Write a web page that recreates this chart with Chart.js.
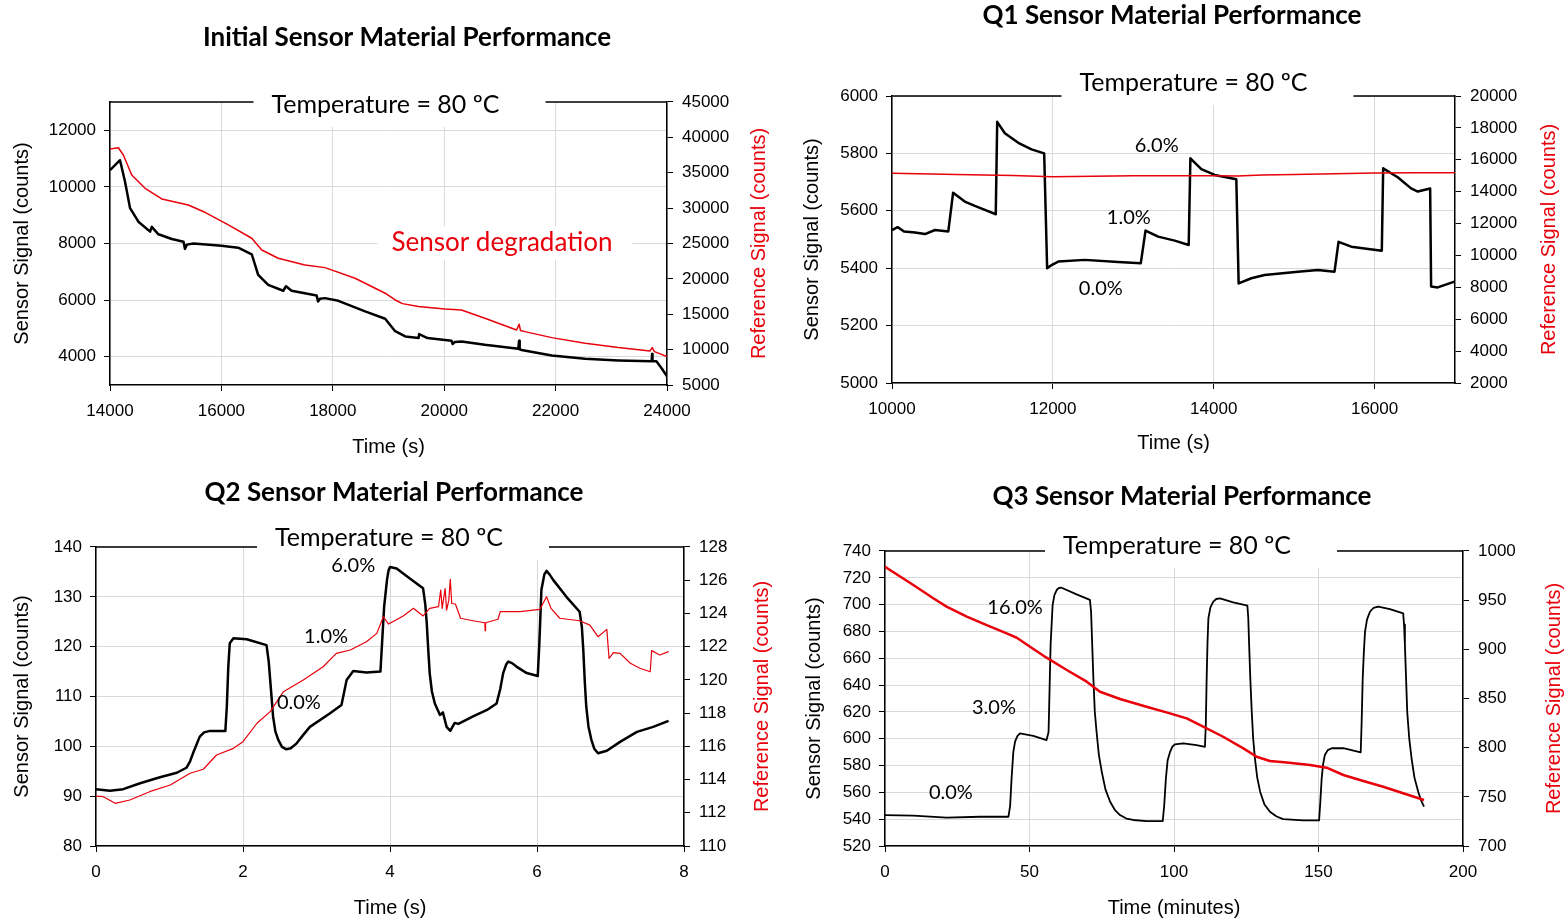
<!DOCTYPE html>
<html lang="en">
<head>
    <meta charset="UTF-8">
    <title>Sensor Material Performance</title>
    <script src="https://cdn.jsdelivr.net/npm/chart.js"></script>
    <style>
        body {
            margin: 0;
            background-color: white;
        }

        #page {
            position: relative;
            width: 1564px;
            height: 922px;
            overflow: hidden;
        }

        canvas {
            position: absolute;
        }
    </style>
</head>
<body>

    <div id="page">
        <canvas id="chartInitial" width="814" height="462" style="left:0px; top:0px;"></canvas>
        <canvas id="chartQ1" width="780" height="462" style="left:782px; top:0px;"></canvas>
        <canvas id="chartQ2" width="788" height="460" style="left:0px; top:462px;"></canvas>
        <canvas id="chartQ3" width="764" height="460" style="left:800px; top:462px;"></canvas>
    </div>

    <script>
        const tempLabel = 'Temperature = 80 ºC';

        // Initial sensor material (time in s)
        const initSensorTime = [14000, 14180, 14270, 14360, 14510, 14720, 14750, 14870, 15110, 15320, 15345, 15380, 15500, 16000, 16300, 16545, 16660, 16840, 17110, 17160, 17260, 17710, 17735, 17770, 17860, 18100, 18580, 18940, 19120, 19300, 19540, 19550, 19700, 20130, 20150, 20190, 20310, 20730, 21330, 21345, 21355, 21390, 21930, 22530, 23125, 23725, 23732, 23740, 23810, 23900, 24000];
        const initSensor = [10590, 10943, 10180, 9250, 8770, 8420, 8590, 8325, 8160, 8065, 7810, 7960, 8000, 7920, 7850, 7620, 6890, 6540, 6330, 6490, 6330, 6160, 5950, 6050, 6070, 5975, 5600, 5340, 4900, 4715, 4660, 4800, 4660, 4565, 4450, 4520, 4540, 4420, 4280, 4565, 4260, 4235, 4045, 3930, 3870, 3835, 4095, 3835, 3835, 3600, 3305];
        const initRefTime = [14000, 14150, 14240, 14390, 14630, 14930, 15405, 15705, 16125, 16545, 16725, 17020, 17500, 17860, 18400, 18940, 19120, 19250, 19535, 20015, 20310, 20730, 21300, 21345, 21370, 21450, 21930, 22530, 23125, 23695, 23735, 23775, 24000];
        const initRef = [38360, 38540, 37510, 34685, 32800, 31295, 30445, 29410, 27620, 25740, 24085, 22910, 21970, 21590, 20085, 17970, 17020, 16500, 16080, 15750, 15610, 14435, 12785, 13590, 12700, 12545, 11695, 10905, 10285, 9815, 10285, 9720, 9010];

        // Q1 sensor (time in s)
        const q1SensorTime = [10000, 10070, 10150, 10285, 10410, 10535, 10700, 10760, 10905, 11030, 11155, 11290, 11308, 11403, 11570, 11735, 11892, 11929, 11984, 12067, 12398, 12812, 13093, 13152, 13309, 13515, 13689, 13710, 13846, 14012, 14281, 14310, 14468, 14633, 15047, 15295, 15502, 15552, 15710, 15875, 16090, 16107, 16288, 16454, 16537, 16691, 16703, 16786, 16993];
        const q1Sensor = [5533, 5543, 5528, 5524, 5519, 5533, 5528, 5663, 5632, 5617, 5603, 5588, 5910, 5870, 5837, 5814, 5800, 5400, 5411, 5423, 5429, 5422, 5417, 5531, 5510, 5496, 5481, 5783, 5745, 5725, 5710, 5347, 5365, 5376, 5388, 5394, 5388, 5492, 5475, 5469, 5461, 5748, 5717, 5678, 5667, 5678, 5336, 5333, 5353];
        const q1RefTime = [10000, 10800, 11500, 12000, 12500, 13000, 13500, 14000, 14300, 14600, 15000, 15500, 16000, 16500, 17000];
        const q1Ref = [15150, 15080, 15020, 14940, 14970, 15000, 15000, 15000, 14980, 15050, 15080, 15120, 15170, 15180, 15180];

        // Q2 sensor (time in s)
        const q2SensorTime = [0, 0.19, 0.37, 0.60, 0.87, 1.10, 1.23, 1.28, 1.32, 1.41, 1.47, 1.55, 1.76, 1.78, 1.80, 1.82, 1.87, 2.05, 2.32, 2.35, 2.37, 2.41, 2.44, 2.48, 2.53, 2.59, 2.65, 2.73, 2.82, 2.91, 3.18, 3.34, 3.41, 3.50, 3.68, 3.87, 3.92, 3.96, 3.98, 4.00, 4.09, 4.27, 4.45, 4.48, 4.50, 4.52, 4.54, 4.57, 4.61, 4.68, 4.72, 4.77, 4.82, 4.88, 4.93, 5.13, 5.32, 5.45, 5.50, 5.54, 5.58, 5.61, 5.66, 5.72, 5.86, 6.01, 6.03, 6.06, 6.10, 6.13, 6.17, 6.22, 6.40, 6.58, 6.61, 6.63, 6.65, 6.67, 6.70, 6.74, 6.78, 6.83, 6.95, 7.13, 7.36, 7.58, 7.79];
        const q2Sensor = [91.4, 91.1, 91.4, 92.6, 93.8, 94.7, 95.7, 97.0, 98.6, 101.9, 102.8, 103.1, 103.1, 108.0, 116.0, 120.7, 121.7, 121.5, 120.3, 117.0, 113.3, 105.9, 103.0, 101.3, 99.9, 99.4, 99.6, 100.6, 102.3, 103.9, 106.6, 108.3, 113.3, 115.1, 114.8, 115.0, 128.0, 133.5, 135.3, 136.0, 135.7, 133.7, 131.7, 128.5, 124.7, 119.5, 114.7, 111.0, 108.6, 106.3, 106.8, 103.9, 103.1, 104.7, 104.5, 106.0, 107.3, 108.6, 111.5, 114.7, 116.4, 117.0, 116.7, 116.0, 114.7, 114.1, 120.0, 131.4, 134.5, 135.2, 134.5, 133.4, 130.0, 127.0, 124.0, 119.3, 113.0, 108.0, 104.0, 101.3, 99.5, 98.6, 99.1, 100.9, 102.9, 103.9, 105.1];
        const q2RefTime = [0, 0.10, 0.26, 0.46, 0.73, 1.01, 1.28, 1.46, 1.64, 1.87, 2.00, 2.19, 2.37, 2.55, 2.82, 3.09, 3.27, 3.46, 3.68, 3.82, 3.91, 3.98, 4.18, 4.32, 4.45, 4.54, 4.66, 4.69, 4.71, 4.75, 4.77, 4.80, 4.82, 4.84, 4.89, 4.96, 5.13, 5.29, 5.295, 5.30, 5.47, 5.50, 5.77, 6.04, 6.13, 6.19, 6.31, 6.58, 6.72, 6.83, 6.95, 6.98, 7.04, 7.13, 7.27, 7.40, 7.54, 7.56, 7.67, 7.79];
        const q2Ref = [113.0, 112.97, 112.57, 112.77, 113.27, 113.67, 114.38, 114.62, 115.48, 115.88, 116.28, 117.39, 118.09, 119.29, 119.99, 120.79, 121.60, 121.80, 122.30, 122.80, 123.80, 123.36, 123.85, 124.31, 123.85, 124.31, 124.41, 125.41, 124.3, 125.5, 124.2, 124.8, 126.06, 124.6, 124.57, 123.71, 123.56, 123.44, 122.96, 123.44, 123.65, 124.11, 124.11, 124.25, 125.01, 124.31, 123.71, 123.56, 123.30, 122.60, 123.04, 121.30, 121.64, 121.60, 121.00, 120.70, 120.49, 121.76, 121.50, 121.70];

        // Q3 sensor (time in minutes)
        const q3SensorTime = [0, 9.8, 21.3, 32.9, 42.7, 43.3, 43.8, 44.4, 45.0, 45.8, 46.7, 51.3, 55.9, 56.6, 57.3, 58.0, 58.6, 59.4, 60.2, 61.1, 66.3, 70.9, 71.3, 71.7, 72.1, 72.6, 73.2, 74.0, 75.0, 76.3, 77.9, 79.5, 81.3, 83.5, 85.9, 90.5, 96.1, 96.6, 97.2, 97.8, 98.6, 99.4, 100.3, 103.2, 107.8, 110.7, 111.0, 111.3, 111.6, 111.9, 112.6, 113.6, 114.6, 115.9, 120.5, 125.4, 125.7, 126.0, 126.4, 126.9, 127.4, 128.0, 128.8, 129.8, 131.3, 133.2, 135.5, 137.8, 144.7, 150.2, 150.6, 151.1, 151.6, 152.2, 153.2, 154.6, 158.6, 164.6, 164.9, 165.3, 165.7, 166.1, 166.8, 167.8, 169.0, 170.7, 174.7, 179.3, 179.6, 179.9, 180.3, 180.7, 181.4, 182.2, 183.2, 184.5, 185.5, 186.5];
        const q3Sensor = [543.1, 542.6, 541.1, 541.8, 541.8, 550.0, 570.5, 590.0, 597.8, 602.0, 604.0, 602.2, 599.0, 605.0, 669.9, 699.7, 707.0, 710.9, 712.5, 712.6, 707.7, 703.5, 695.0, 670.0, 645.1, 620.0, 605.2, 588.0, 575.4, 562.0, 553.0, 547.0, 543.1, 540.5, 539.4, 538.6, 538.6, 550.0, 570.5, 584.0, 590.0, 594.0, 595.8, 596.6, 595.3, 594.0, 610.0, 645.1, 672.0, 689.8, 698.0, 702.2, 704.2, 704.7, 701.7, 699.2, 690.0, 669.9, 645.0, 620.1, 600.0, 585.4, 571.0, 560.5, 551.0, 545.6, 542.0, 540.1, 539.1, 539.1, 552.0, 570.5, 581.0, 587.9, 591.5, 592.9, 592.9, 589.9, 610.0, 645.1, 665.0, 679.8, 689.0, 694.7, 697.5, 698.5, 696.7, 693.5, 685.0, 669.9, 645.0, 620.1, 600.0, 585.4, 571.0, 560.5, 554.0, 549.3];
        const q3RefTime = [0, 9.8, 16.7, 21.3, 28.3, 35.2, 42.1, 45.6, 50.2, 55.9, 62.9, 69.8, 74.4, 81.3, 90.5, 98.6, 104.4, 110.1, 117.0, 124.0, 128.6, 133.2, 139.0, 147.1, 152.8, 158.6, 165.5, 172.4, 179.3, 186.5];
        const q3Ref = [984.0, 965.4, 951.9, 943.4, 933.2, 924.7, 916.3, 911.8, 902.7, 891.5, 879.0, 867.1, 856.9, 849.5, 841.6, 834.9, 829.8, 821.3, 811.1, 799.3, 790.8, 786.4, 785.0, 782.4, 779.6, 772.2, 766.1, 760.3, 753.6, 746.8];

        // tick values for each axis
        const initTimeTicks = [14000, 16000, 18000, 20000, 22000, 24000];
        const initSensorTicks = [4000, 6000, 8000, 10000, 12000];
        const initRefTicks = [5000, 10000, 15000, 20000, 25000, 30000, 35000, 40000, 45000];
        const q1TimeTicks = [10000, 12000, 14000, 16000];
        const q1SensorTicks = [5000, 5200, 5400, 5600, 5800, 6000];
        const q1RefTicks = [2000, 4000, 6000, 8000, 10000, 12000, 14000, 16000, 18000, 20000];
        const q2TimeTicks = [0, 2, 4, 6, 8];
        const q2SensorTicks = [80, 90, 100, 110, 120, 130, 140];
        const q2RefTicks = [110, 112, 114, 116, 118, 120, 122, 124, 126, 128];
        const q3TimeTicks = [0, 50, 100, 150, 200];
        const q3SensorTicks = [520, 540, 560, 580, 600, 620, 640, 660, 680, 700, 720, 740];
        const q3RefTicks = [700, 750, 800, 850, 900, 950, 1000];

        // concentration labels, placed in data units of the sensor axis
        const initNotes = [{ text: 'Sensor degradation', x: 21037, y: 8018 }];
        const q1Notes = [{ text: '6.0%', x: 13291, y: 5826 }, { text: '1.0%', x: 12944, y: 5575 }, { text: '0.0%', x: 12596, y: 5328 }];
        const q2Notes = [{ text: '6.0%', x: 3.50, y: 136.2 }, { text: '1.0%', x: 3.13, y: 122.1 }, { text: '0.0%', x: 2.76, y: 108.7 }];
        const q3Notes = [{ text: '16.0%', x: 45.0, y: 698.2 }, { text: '3.0%', x: 37.7, y: 622.9 }, { text: '0.0%', x: 22.8, y: 559.5 }];

        const RED = '#e8000b';
        const tickFont = { family: 'Liberation Sans', size: 17 };
        const axisFont = { family: 'Liberation Sans', size: 20 };
        const TITLE_SIZE = 26;

        function points(xs, ys) {
            return xs.map((x, i) => ({ x: x, y: ys[i] }));
        }

        function fixedTicks(values) {
            return scale => { scale.ticks = values.map(v => ({ value: v })); };
        }

        // frame top line with the temperature box, right axis title and text labels
        const panelDecor = {
            id: 'panelDecor',
            beforeDatasetsDraw(chart, args, opts) {
                const { ctx, chartArea: a } = chart;
                const cx = (a.left + a.right) / 2 + opts.tempDx;
                const cy = a.top + opts.tempDy;
                ctx.save();
                ctx.fillStyle = '#fff';
                ctx.fillRect(cx - 132, cy - 15, 292, 37);
                ctx.strokeStyle = '#000';
                ctx.lineWidth = 1.5;
                ctx.beginPath();
                ctx.moveTo(a.left, a.top);
                ctx.lineTo(cx - 132, a.top);
                ctx.moveTo(cx + 160, a.top);
                ctx.lineTo(a.right, a.top);
                ctx.stroke();
                ctx.fillStyle = '#000';
                ctx.font = '25px Lato';
                ctx.textAlign = 'center';
                ctx.textBaseline = 'middle';
                ctx.fillText(tempLabel, cx, cy);

                if (opts.boxedNote) {
                    const xs = chart.scales.x, ys = chart.scales.y;
                    ctx.font = opts.noteFont;
                    opts.notes.forEach(n => {
                        const px = xs.getPixelForValue(n.x), py = ys.getPixelForValue(n.y);
                        const w = ctx.measureText(n.text).width;
                        ctx.fillStyle = '#fff';
                        ctx.fillRect(px - w / 2 - 14, py - 17, w + 34, 34);
                        ctx.fillStyle = opts.noteColor;
                        ctx.fillText(n.text, px, py);
                    });
                }
                ctx.restore();
            },
            afterDatasetsDraw(chart, args, opts) {
                const { ctx, chartArea: a } = chart;
                ctx.save();
                ctx.textAlign = 'center';
                ctx.textBaseline = 'middle';
                if (!opts.boxedNote) {
                    const xs = chart.scales.x, ys = chart.scales.y;
                    ctx.font = opts.noteFont;
                    ctx.fillStyle = opts.noteColor;
                    opts.notes.forEach(n => {
                        ctx.fillText(n.text, xs.getPixelForValue(n.x), ys.getPixelForValue(n.y));
                    });
                }
                // secondary axis title reads bottom to top
                ctx.translate(a.right + opts.rightTitleGap, (a.top + a.bottom) / 2);
                ctx.rotate(-Math.PI / 2);
                ctx.font = '20px "Liberation Sans"';
                ctx.fillStyle = RED;
                ctx.fillText('Reference Signal (counts)', 0, 0);
                ctx.restore();
            }
        };

        function makePanel(id, p) {
            const ctx = document.getElementById(id).getContext('2d');
            const titleLH = TITLE_SIZE * 1.2;
            const titleTop = Math.max(0, p.titleY - titleLH / 2);
            return new Chart(ctx, {
                type: 'line',
                data: {
                    datasets: [
                        {
                            label: 'Sensor Signal',
                            data: points(p.sensorTime, p.sensor),
                            borderColor: '#000',
                            borderWidth: p.sensorWidth,
                            yAxisID: 'y',
                            order: 1
                        },
                        {
                            label: 'Reference Signal',
                            data: points(p.refTime, p.ref),
                            borderColor: RED,
                            borderWidth: p.refWidth,
                            yAxisID: 'y1',
                            order: 0
                        }
                    ]
                },
                options: {
                    responsive: false,
                    animation: false,
                    devicePixelRatio: 1,
                    elements: {
                        point: { radius: 0 },
                        line: { tension: 0, borderJoinStyle: 'round' }
                    },
                    layout: { padding: 0 },
                    scales: {
                        x: {
                            type: 'linear',
                            min: p.xMin,
                            max: p.xMax,
                            afterBuildTicks: fixedTicks(p.xTicks),
                            afterFit: s => { s.height = p.bottomH; },
                            ticks: { font: tickFont, color: '#000', padding: 10, maxRotation: 0, callback: v => String(v) },
                            grid: { color: '#d9d9d9', tickLength: 6, tickColor: '#000' },
                            border: { color: '#000', width: 1.5 },
                            title: { display: true, text: p.xTitle, font: axisFont, color: '#000', padding: { top: 0, bottom: p.xTitlePad } }
                        },
                        y: {
                            position: 'left',
                            min: p.yMin,
                            max: p.yMax,
                            afterBuildTicks: fixedTicks(p.yTicks),
                            afterFit: s => { s.width = p.leftW; },
                            ticks: { font: tickFont, color: '#000', padding: 8, callback: v => String(v) },
                            grid: { color: '#d9d9d9', tickLength: 6, tickColor: '#000' },
                            border: { color: '#000', width: 1.5 },
                            title: { display: true, text: 'Sensor Signal (counts)', font: axisFont, color: '#000', padding: { top: p.yTitlePad, bottom: 0 } }
                        },
                        y1: {
                            position: 'right',
                            min: p.rMin,
                            max: p.rMax,
                            afterBuildTicks: fixedTicks(p.rTicks),
                            afterFit: s => { s.width = p.rightW; },
                            ticks: { font: tickFont, color: '#000', padding: 9, callback: v => String(v) },
                            grid: { drawOnChartArea: false, tickLength: 6, tickColor: '#000' },
                            border: { color: '#000', width: 1.5 }
                        }
                    },
                    plugins: {
                        legend: { display: false },
                        tooltip: { enabled: false },
                        title: {
                            display: true,
                            text: p.title,
                            color: '#000',
                            font: { family: 'Lato', size: TITLE_SIZE, weight: 'bold' },
                            padding: { top: titleTop, bottom: p.areaTop - titleTop - titleLH }
                        },
                        panelDecor: {
                            tempDx: p.tempDx,
                            tempDy: p.tempDy,
                            notes: p.notes,
                            noteFont: p.noteFont,
                            noteColor: p.noteColor,
                            boxedNote: p.boxedNote,
                            rightTitleGap: p.rightTitleGap
                        }
                    }
                },
                plugins: [panelDecor]
            });
        }

        makePanel('chartInitial', {
            title: 'Initial Sensor Material Performance', titleY: 38, areaTop: 102,
            sensorTime: initSensorTime, sensor: initSensor, refTime: initRefTime, ref: initRef,
            sensorWidth: 2.5, refWidth: 1.5,
            xMin: 14000, xMax: 24000, xTicks: initTimeTicks, xTitle: 'Time (s)', xTitlePad: 3,
            yMin: 3000, yMax: 13000, yTicks: initSensorTicks, yTitlePad: 10,
            rMin: 5000, rMax: 45000, rTicks: initRefTicks,
            leftW: 110, rightW: 147, bottomH: 77, rightTitleGap: 92,
            tempDx: -3, tempDy: 3,
            notes: initNotes, noteFont: '26px Lato', noteColor: RED, boxedNote: true
        });

        makePanel('chartQ1', {
            title: 'Q1 Sensor Material Performance', titleY: 15, areaTop: 96,
            sensorTime: q1SensorTime, sensor: q1Sensor, refTime: q1RefTime, ref: q1Ref,
            sensorWidth: 2.5, refWidth: 1.5,
            xMin: 10000, xMax: 17000, xTicks: q1TimeTicks, xTitle: 'Time (s)', xTitlePad: 7,
            yMin: 5000, yMax: 6000, yTicks: q1SensorTicks, yTitlePad: 18,
            rMin: 2000, rMax: 20000, rTicks: q1RefTicks,
            leftW: 110, rightW: 107, bottomH: 79, rightTitleGap: 94,
            tempDx: 20, tempDy: -13,
            notes: q1Notes, noteFont: '20px Lato', noteColor: '#000', boxedNote: false
        });

        makePanel('chartQ2', {
            title: 'Q2 Sensor Material Performance', titleY: 31, areaTop: 85,
            sensorTime: q2SensorTime, sensor: q2Sensor, refTime: q2RefTime, ref: q2Ref,
            sensorWidth: 2.5, refWidth: 1.2,
            xMin: 0, xMax: 8, xTicks: q2TimeTicks, xTitle: 'Time (s)', xTitlePad: 2,
            yMin: 80, yMax: 140, yTicks: q2SensorTicks, yTitlePad: 10,
            rMin: 110, rMax: 128, rTicks: q2RefTicks,
            leftW: 96, rightW: 104, bottomH: 76, rightTitleGap: 78,
            tempDx: -1, tempDy: -9,
            notes: q2Notes, noteFont: '20px Lato', noteColor: '#000', boxedNote: false
        });

        makePanel('chartQ3', {
            title: 'Q3 Sensor Material Performance', titleY: 35, areaTop: 89,
            sensorTime: q3SensorTime, sensor: q3Sensor, refTime: q3RefTime, ref: q3Ref,
            sensorWidth: 1.8, refWidth: 2.5,
            xMin: 0, xMax: 200, xTicks: q3TimeTicks, xTitle: 'Time (minutes)', xTitlePad: 2,
            yMin: 520, yMax: 740, yTicks: q3SensorTicks, yTitlePad: 2,
            rMin: 700, rMax: 1000, rTicks: q3RefTicks,
            leftW: 85, rightW: 101, bottomH: 76, rightTitleGap: 91,
            tempDx: 3, tempDy: -5,
            notes: q3Notes, noteFont: '20px Lato', noteColor: '#000', boxedNote: false
        });
    </script>

</body>
</html>
